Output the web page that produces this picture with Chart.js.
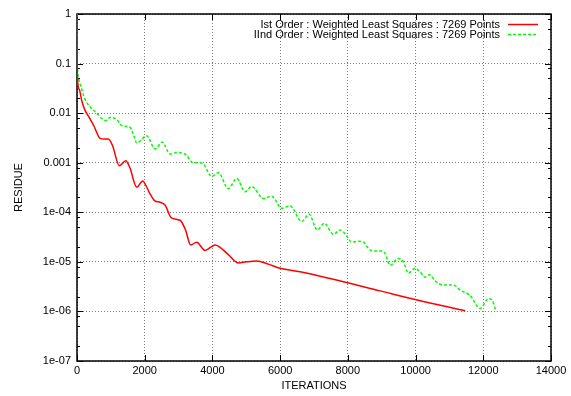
<!DOCTYPE html>
<html>
<head>
<meta charset="utf-8">
<title>Residue history</title>
<script src="https://cdn.jsdelivr.net/npm/chart.js@4.4.1/dist/chart.umd.min.js"></script>
<style>
	html, body { margin: 0; padding: 0; background: #fff; }
	canvas { display: block; }
</style>
</head>
<body>
<canvas id="out" width="571" height="396"></canvas>
<script>
const firstOrderLabel = "Ist Order : Weighted Least Squares : 7269 Points";
const secondOrderLabel = "IInd Order : Weighted Least Squares : 7269 Points";

// Ist order run
const firstOrderIter = [0, 10, 68, 138, 236, 355, 500, 680, 800, 925, 1050, 1250, 1440, 1560, 1765, 1940, 2060, 2150, 2300, 2450, 2600, 2790, 3043, 3200, 3358, 3535, 3781, 4076, 4470, 4766, 5000, 5308, 5650, 5997, 6588, 7475, 8951, 9985, 11462];
const firstOrderResidue = [1, 0.055, 0.03, 0.018, 0.0115, 0.0083, 0.0055, 0.0031, 0.003, 0.003, 0.0022, 0.00087, 0.0011, 0.0008, 0.00032, 0.00043, 0.00032, 0.00024, 0.00017, 0.00016, 0.00014, 7.7e-5, 6.9e-5, 4.5e-5, 2.2e-5, 2.5e-5, 1.7e-5, 2.2e-5, 1.4e-5, 9.5e-6, 1.0e-5, 1.04e-5, 9e-6, 7.4e-6, 6.3e-6, 4.6e-6, 2.6e-6, 1.74e-6, 1.03e-6];

// IInd order run
const secondOrderIter = [0, 10, 59, 89, 236, 384, 581, 729, 857, 975, 1172, 1320, 1566, 1680, 1763, 2058, 2304, 2521, 2747, 2945, 3190, 3436, 3633, 3731, 3978, 4175, 4470, 4717, 4963, 5160, 5505, 5751, 6046, 6293, 6637, 6850, 7100, 7300, 7573, 7770, 7918, 8114, 8311, 8459, 8655, 8852, 9000, 9098, 9246, 9492, 9640, 9788, 9985, 10132, 10280, 10400, 10600, 10822, 11118, 11315, 11610, 11905, 12151, 12249, 12377];
const secondOrderResidue = [1, 0.09, 0.047, 0.04, 0.019, 0.0135, 0.01, 0.0078, 0.0071, 0.0082, 0.0075, 0.0056, 0.0052, 0.0035, 0.0025, 0.0035, 0.0019, 0.0026, 0.0015, 0.0016, 0.0015, 0.001, 0.001, 0.00095, 0.00053, 0.00063, 0.0003, 0.00048, 0.00026, 0.00033, 0.00019, 0.00021, 0.00012, 0.000135, 6.5e-5, 9.2e-5, 4.4e-5, 6e-5, 3.6e-5, 4.4e-5, 3.7e-5, 2.5e-5, 2.6e-5, 2.5e-5, 1.74e-5, 1.66e-5, 1.66e-5, 1.48e-5, 8.5e-6, 1.17e-5, 1e-5, 5.9e-6, 7.4e-6, 6.3e-6, 4.9e-6, 5.5e-6, 4e-6, 3.4e-6, 3.4e-6, 2.7e-6, 2.1e-6, 1.15e-6, 1.8e-6, 1.74e-6, 1.0e-6];

const xTicks = [0, 2000, 4000, 6000, 8000, 10000, 12000, 14000];
const yTicks = [1, 0.1, 0.01, 0.001, 1e-4, 1e-5, 1e-6, 1e-7];
const yTickLabels = ["1", "0.1", "0.01", "0.001", "1e-04", "1e-05", "1e-06", "1e-07"];
const yMinorSteps = [2, 5, 8];

const fontFamily = "'Liberation Sans', Arial, Helvetica, sans-serif";
const textFont = { family: fontFamily, size: 11 };

function toPoints(xs, ys) {
	const result = [];
	for (let i = 0; i < xs.length; i++) {
		result.push({ x: xs[i], y: ys[i] });
	};
	return result;
};

// box round the plot with inward tics on all four sides
const plotFrame = {
	id: "plotFrame",
	beforeDatasetsDraw(chart) {
		const ctx = chart.ctx;
		const area = chart.chartArea;
		const xScale = chart.scales.x;
		const yScale = chart.scales.y;
		ctx.save();
		ctx.strokeStyle = "#000";
		ctx.lineWidth = 1;
		ctx.beginPath();
		xScale.ticks.forEach(function(t) {
			const px = Math.round(xScale.getPixelForValue(t.value)) + 0.5;
			ctx.moveTo(px, area.bottom);
			ctx.lineTo(px, area.bottom - 6);
			ctx.moveTo(px, area.top);
			ctx.lineTo(px, area.top + 6);
		});
		yScale.ticks.forEach(function(t) {
			const py = Math.round(yScale.getPixelForValue(t.value)) + 0.5;
			ctx.moveTo(area.left, py);
			ctx.lineTo(area.left + 6, py);
			ctx.moveTo(area.right, py);
			ctx.lineTo(area.right - 6, py);
			yMinorSteps.forEach(function(m) {
				const v = t.value * m;
				if (v >= 1) return;
				const my = Math.round(yScale.getPixelForValue(v)) + 0.5;
				ctx.moveTo(area.left, my);
				ctx.lineTo(area.left + 3, my);
				ctx.moveTo(area.right, my);
				ctx.lineTo(area.right - 3, my);
			});
		});
		ctx.stroke();
		ctx.lineWidth = 1.5;
		ctx.strokeRect(area.left, area.top, area.right - area.left, area.bottom - area.top);
		ctx.restore();
	}
};

// key in the top right corner: text first, line sample after it
const plotKey = {
	id: "plotKey",
	afterDatasetsDraw(chart) {
		const ctx = chart.ctx;
		const area = chart.chartArea;
		ctx.save();
		ctx.font = "11px " + fontFamily;
		ctx.textAlign = "right";
		ctx.textBaseline = "middle";
		chart.data.datasets.forEach(function(ds, i) {
			const y = area.top + 10.5 + i * 10;
			ctx.fillStyle = "#000";
			ctx.fillText(ds.label, area.right - 51, y);
			ctx.strokeStyle = ds.borderColor;
			ctx.lineWidth = ds.borderWidth;
			ctx.setLineDash(ds.borderDash || []);
			ctx.beginPath();
			ctx.moveTo(area.right - 43, y);
			ctx.lineTo(area.right - 13, y);
			ctx.stroke();
		});
		ctx.restore();
	}
};

const canvasCtx = document.getElementById("out").getContext("2d");

const chartConfig = {
	type: "line",
	data: {
		datasets: [
			{
				label: firstOrderLabel,
				data: toPoints(firstOrderIter, firstOrderResidue),
				borderColor: "#ff0000",
				borderWidth: 1.5,
				pointRadius: 0,
				cubicInterpolationMode: "monotone",
				fill: false
			}, {
				label: secondOrderLabel,
				data: toPoints(secondOrderIter, secondOrderResidue),
				borderColor: "#00ff00",
				borderWidth: 1.5,
				borderDash: [3, 2],
				pointRadius: 0,
				cubicInterpolationMode: "monotone",
				fill: false
			}
		]
	},
	options: {
		responsive: false,
		animation: false,
		devicePixelRatio: 1,
		layout: { padding: { left: 0, top: 14, right: 20, bottom: 0 } },
		plugins: {
			legend: { display: false },
			tooltip: { enabled: false }
		},
		scales: {
			x: {
				type: "linear",
				min: 0,
				max: 14000,
				afterBuildTicks: function(scale) {
					scale.ticks = xTicks.map(function(v) { return { value: v }; });
				},
				afterFit: function(scale) { scale.height = 35; },
				grid: { color: "rgba(0,0,0,0.5)", lineWidth: 1, drawTicks: false },
				border: { display: false, dash: [1, 2] },
				ticks: {
					padding: 3,
					color: "#000",
					font: textFont,
					maxRotation: 0,
					autoSkip: false,
					callback: function(value) { return String(value); }
				},
				title: {
					display: true,
					text: "ITERATIONS",
					color: "#000",
					font: textFont,
					padding: { top: 0, bottom: 3 }
				}
			},
			y: {
				type: "logarithmic",
				min: 1e-7,
				max: 1,
				afterBuildTicks: function(scale) {
					scale.ticks = yTicks.map(function(v) { return { value: v }; });
				},
				afterFit: function(scale) { scale.width = 77; },
				grid: { color: "rgba(0,0,0,0.5)", lineWidth: 1, drawTicks: false },
				border: { display: false, dash: [1, 2] },
				ticks: {
					padding: 6,
					color: "#000",
					font: textFont,
					autoSkip: false,
					callback: function(value) { return yTickLabels[yTicks.indexOf(value)]; }
				},
				title: {
					display: true,
					text: "RESIDUE",
					color: "#000",
					font: textFont,
					padding: { top: 12, bottom: 0 }
				}
			}
		}
	},
	plugins: [plotFrame, plotKey]
};

window.chart = new Chart(canvasCtx, chartConfig);
</script>
</body>
</html>
